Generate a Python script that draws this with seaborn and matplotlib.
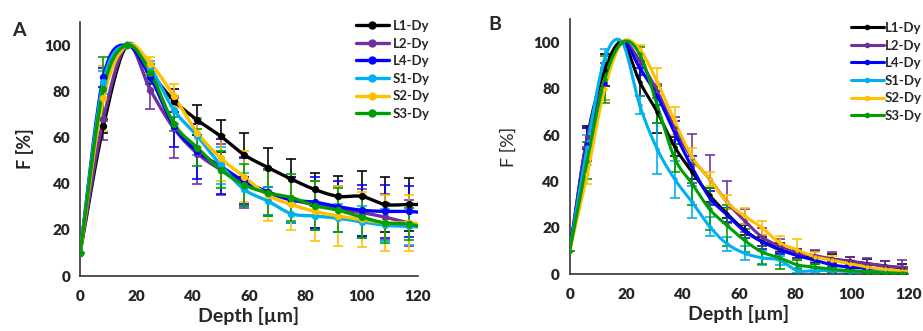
import numpy as np
import pandas as pd
import seaborn as sns
import matplotlib.pyplot as plt
from matplotlib.lines import Line2D
from matplotlib.ticker import MultipleLocator

sns.set_style("white")
plt.rcParams['font.family'] = ['Lato', 'DejaVu Sans']
plt.rcParams['font.weight'] = 'bold'

labels = ['L1-Dy', 'L2-Dy', 'L4-Dy', 'S1-Dy', 'S2-Dy', 'S3-Dy']
colors = ['#000000', '#7030A0', '#0000FF', '#00B0F0', '#FFC000', '#009E00']

# Panel A (last point lies just past the axis edge)
depth_a = [0, 8.3, 16.7, 25, 33.3, 41.7, 50, 58.3, 66.7, 75, 83.3, 91.7, 100, 108.3, 116.7, 125]
a_L1 = [10, 65, 100, 88, 76, 67.5, 60.5, 52.5, 47, 42, 37.5, 34.5, 34.5, 31, 31, 31]
a_L2 = [10, 68, 100, 80.5, 64, 53, 46, 40.5, 36, 33, 31, 29, 27.5, 25.5, 23, 21]
a_L4 = [10, 86, 100, 86, 65, 54, 47.5, 41, 36.5, 33, 32, 30, 28.5, 28, 28, 27]
a_S1 = [10, 84, 100, 90, 72, 60.5, 48, 37.5, 32.5, 27, 26, 25, 23.5, 22, 21.5, 21]
a_S2 = [10, 77, 100, 92, 78, 62, 51, 43, 35, 31, 28, 26, 24.5, 23, 23, 22]
a_S3 = [10, 81, 100, 88, 66, 55.5, 46, 39.5, 36, 34, 30.5, 28.5, 25.5, 23, 22.5, 20]
a_err_L1 = [0, 3, 0, 4, 5, 6.5, 7, 9.5, 8.5, 8.5, 7, 9, 11, 12, 11.5, 0]
a_err_L2 = [0, 9, 0, 8, 13, 13, 11, 11, 10, 10, 10, 10, 10, 10, 10, 0]
a_err_L4 = [0, 4, 0, 3, 9, 12, 12, 10, 10, 10, 11, 11, 11, 11.5, 11, 0]
a_err_S1 = [0, 5, 0, 3, 6, 8, 8, 7, 6, 4, 6, 6, 7, 7, 8, 0]
a_err_S2 = [0, 14, 0, 3, 5, 6, 10, 11, 11, 11, 13, 13, 12, 12, 12, 0]
a_err_S3 = [0, 14, 0, 4, 3, 8, 8, 9, 10, 10, 10.5, 9.5, 9, 8.5, 7, 0]

# Panel B
depth_b = [0, 6.2, 12.4, 18.6, 24.8, 31, 37.2, 43.4, 49.6, 55.8, 62, 68.2, 74.4,
           80.6, 86.8, 93, 99.2, 105.4, 111.6, 117.8, 124]
b_L1 = [10, 59, 88, 100, 83, 70, 55, 44, 34, 26, 19, 14, 11.5, 9, 7.5, 6.5, 5.5, 4.5, 3.5, 2.5, 2]
b_L2 = [10, 59, 83, 100, 92, 79, 63, 50, 41, 31, 23, 16, 12, 9, 8, 6.5, 5.5, 4.5, 3.5, 3, 2.5]
b_L4 = [10, 56, 82, 100, 89, 77, 61, 46, 33, 25.5, 18.5, 14, 10.5, 8, 6, 4, 3, 2.5, 1.5, 1, 1]
b_S1 = [10, 55, 93, 100, 73, 54, 41, 31, 20.5, 13, 9, 7, 6, 1.5, 1.5, 1.5, 1, 1, 1, 0.5, 0.5]
b_S2 = [10, 43, 80, 100, 97, 83, 66, 50.5, 41, 31, 25, 20, 13.5, 10.5, 7.5, 6, 4.5, 3, 2, 1.5, 1]
b_S3 = [10, 49, 84, 100, 95, 73, 50, 39, 28, 21, 14.5, 9.5, 7, 4, 3, 2, 1.5, 1, 0.5, 0.3, 0.2]
b_err_L1 = [0, 5, 7, 0, 6, 9, 4, 3, 3, 2, 2, 2, 2, 2, 2.5, 2, 2, 2, 2, 2, 0]
b_err_L2 = [0, 4, 8, 0, 3, 3, 5, 10.5, 10.5, 9, 5, 4, 3, 2, 2.5, 3, 2, 2.5, 2, 3, 0]
b_err_L4 = [0, 7, 7, 0, 3, 4, 5, 5, 3, 3, 3, 3, 2, 2, 1.5, 1, 1, 1, 1, 1, 0]
b_err_S1 = [0, 5, 4, 0, 4, 11, 8, 7, 4, 3, 3, 3, 2, 1, 1, 1, 1, 1, 1, 1, 0]
b_err_S2 = [0, 4, 5, 0, 2, 6, 6, 4, 3, 3, 3.5, 3, 3, 4.5, 2, 2, 1.5, 1, 1, 1, 0]
b_err_S3 = [0, 8, 10, 0, 3, 8, 6, 9, 9, 9, 5, 5, 5, 2, 1.5, 1, 1, 1, 0.5, 0.5, 0]

panel_a = [a_L1, a_L2, a_L4, a_S1, a_S2, a_S3]
panel_a_err = [a_err_L1, a_err_L2, a_err_L4, a_err_S1, a_err_S2, a_err_S3]
panel_b = [b_L1, b_L2, b_L4, b_S1, b_S2, b_S3]
panel_b_err = [b_err_L1, b_err_L2, b_err_L4, b_err_S1, b_err_S2, b_err_S3]


def smooth(x, y, n=16):
    # Catmull-Rom curve through the points, like Excel's smoothed line
    x = np.asarray(x, float)
    y = np.asarray(y, float)
    px = np.concatenate([[2 * x[0] - x[1]], x, [2 * x[-1] - x[-2]]])
    py = np.concatenate([[2 * y[0] - y[1]], y, [2 * y[-1] - y[-2]]])
    t = np.linspace(0, 1, n, endpoint=False)
    xs, ys = [], []
    for i in range(1, len(px) - 2):
        for p, out in ((px, xs), (py, ys)):
            p0, p1, p2, p3 = p[i - 1], p[i], p[i + 1], p[i + 2]
            out.extend(0.5 * (2 * p1 + (-p0 + p2) * t + (2 * p0 - 5 * p1 + 4 * p2 - p3) * t ** 2
                              + (-p0 + 3 * p1 - 3 * p2 + p3) * t ** 3))
    xs.append(x[-1])
    ys.append(y[-1])
    return np.array(xs), np.array(ys)


def draw_panel(ax, depth, series, errs, lw, ms):
    for lab, col, vals, err in zip(labels, colors, series, errs):
        ax.errorbar(depth, vals, yerr=err, fmt='none', ecolor=col, elinewidth=1.3,
                    capsize=3.5, capthick=1.3, alpha=0.9, zorder=2)
        sx, sy = smooth(depth, vals)
        df = pd.DataFrame({'x': sx, 'y': sy})
        sns.lineplot(data=df, x='x', y='y', ax=ax, color=col, linewidth=lw,
                     sort=False, estimator=None, zorder=3)
        pts = pd.DataFrame({'x': depth, 'y': vals})
        sns.scatterplot(data=pts, x='x', y='y', ax=ax, color=col, s=ms, linewidth=0, zorder=4)
    ax.set_xlim(0, 120)
    ax.set_ylim(0, 110)
    ax.set_yticks([0, 20, 40, 60, 80, 100])
    ax.xaxis.set_major_locator(MultipleLocator(20))
    ax.xaxis.set_minor_locator(MultipleLocator(10))
    ax.tick_params(axis='both', which='both', direction='out', length=4, width=1.2,
                   labelsize=11, color='#333333', pad=3)
    ax.tick_params(axis='x', which='major', pad=6)
    for lbl in ax.get_xticklabels() + ax.get_yticklabels():
        lbl.set_fontweight('heavy')
    sns.despine(ax=ax)
    for s in ('left', 'bottom'):
        ax.spines[s].set_linewidth(1.2)
        ax.spines[s].set_color('#333333')
    ax.set_xlabel('Depth [µm]', fontsize=14, fontweight='bold', labelpad=3)


fig = plt.figure(figsize=(9.23, 3.31), dpi=100)
ax_a = fig.add_axes([0.0867, 0.166, 0.3662, 0.7675])
ax_b = fig.add_axes([0.6172, 0.172, 0.3668, 0.770])

draw_panel(ax_a, depth_a, panel_a, panel_a_err, 2.4, 28)
draw_panel(ax_b, depth_b, panel_b, panel_b_err, 2.2, 10)
ax_a.set_ylabel('F [%]', fontsize=13, fontweight='bold', labelpad=7)
ax_b.set_ylabel('F [%]', fontsize=13, fontweight='normal', labelpad=12)

fig.text(12 / 923, 1 - 30 / 331, 'A', fontsize=14, fontweight='bold', va='center')
fig.text(488 / 923, 1 - 24 / 331, 'B', fontsize=14, fontweight='bold', va='center')

handles_a = [Line2D([], [], color=c, lw=2.4, marker='o', ms=5) for c in colors]
fig.legend(handles_a, labels, loc='upper left', bbox_to_anchor=(356 / 923, 1 - 20 / 331),
           frameon=False, fontsize=9.5, handlelength=2.5, handletextpad=0.3,
           labelspacing=0.42, borderpad=0, borderaxespad=0)
handles_b = [Line2D([], [], color=c, lw=2.2, marker='o', ms=3) for c in colors]
fig.legend(handles_b, labels, loc='upper left', bbox_to_anchor=(851 / 923, 1 - 22 / 331),
           frameon=False, fontsize=9.5, handlelength=2.5, handletextpad=0.05,
           labelspacing=0.42, borderpad=0, borderaxespad=0)

fig.savefig('out.png', dpi=100)
